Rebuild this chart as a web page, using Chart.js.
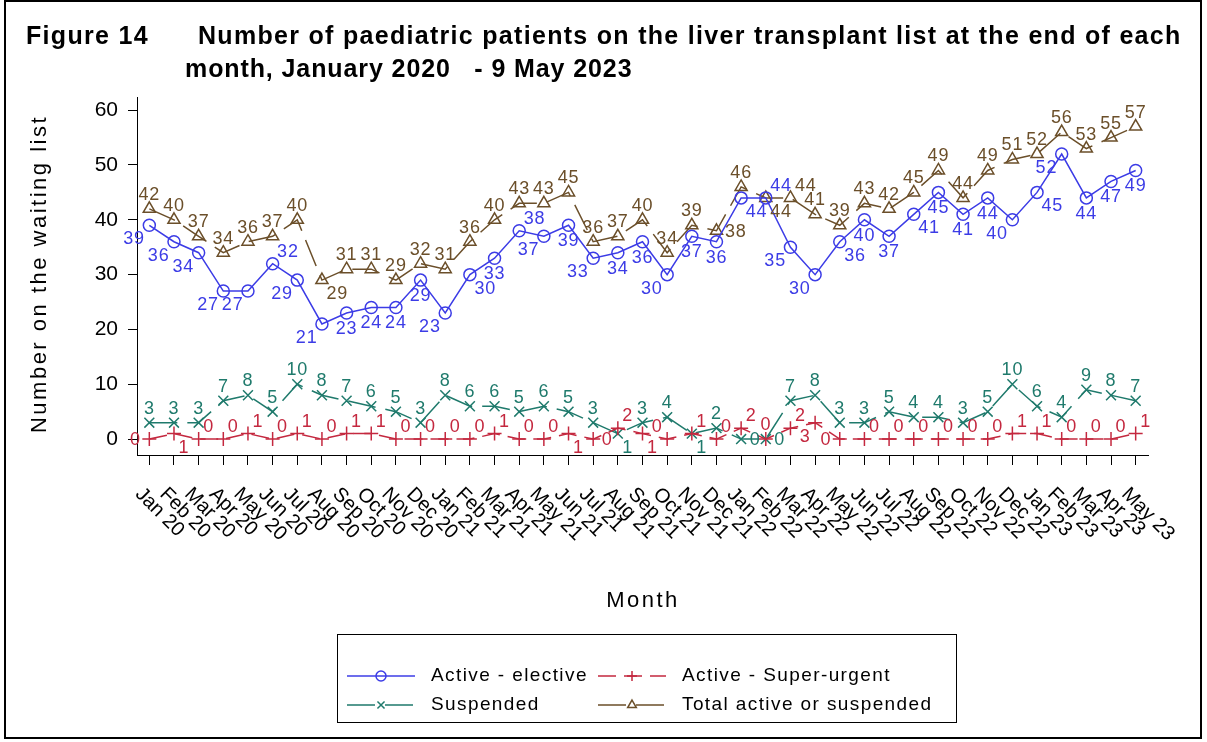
<!DOCTYPE html>
<html>
<head>
<meta charset="utf-8">
<script src="https://cdn.jsdelivr.net/npm/chart.js@4.4.1/dist/chart.umd.min.js"></script>
<style>
  html, body { margin: 0; padding: 0; background: #fff; }
  #wrap { width: 1207px; height: 742px; }
</style>
</head>
<body>
<div id="wrap"><canvas id="chart" width="1207" height="742"></canvas></div>
<script>
// month categories, Jan 2020 - May 2023
const months = [
  'Jan 20','Feb 20','Mar 20','Apr 20','May 20','Jun 20','Jul 20','Aug 20','Sep 20','Oct 20','Nov 20','Dec 20',
  'Jan 21','Feb 21','Mar 21','Apr 21','May 21','Jun 21','Jul 21','Aug 21','Sep 21','Oct 21','Nov 21','Dec 21',
  'Jan 22','Feb 22','Mar 22','Apr 22','May 22','Jun 22','Jul 22','Aug 22','Sep 22','Oct 22','Nov 22','Dec 22',
  'Jan 23','Feb 23','Mar 23','Apr 23','May 23'
];

const elective = [39,36,34,27,27,32,29,21,23,24,24,29, 23,30,33,38,37,39,33,34,36,30,37,36, 44,44,35,30,36,40,37,41,45,41,44,40, 45,52,44,47,49];
const superUrgent = [0,1,0,0,1,0,1,0,1,1,0,0, 0,0,1,0,0,1,0,2,1,0,1,0, 2,0,2,3,0,0,0,0,0,0,0,1, 1,0,0,0,1];
const suspended = [3,3,3,7,8,5,10,8,7,6,5,3, 8,6,6,5,6,5,3,1,3,4,1,2, 0,0,7,8,3,3,5,4,4,3,5,10, 6,4,9,8,7];
const total = [42,40,37,34,36,37,40,29,31,31,29,32, 31,36,40,43,43,45,36,37,40,34,39,38, 46,44,44,41,39,43,42,45,49,44,49,51, 52,56,53,55,57];

const yTicks = [0, 10, 20, 30, 40, 50, 60];

const FONT = '"Liberation Sans", Arial, Helvetica, sans-serif';

function overlapArea(a, b) {
  const w = Math.min(a.x + a.w, b.x + b.w) - Math.max(a.x, b.x);
  const h = Math.min(a.y + a.h, b.y + b.h) - Math.max(a.y, b.y);
  return (w > 0 && h > 0) ? w * h : 0;
}

// preferred label positions per series, tried in order
const SIDE_ORDER = {
  below: ['bl', 'b', 'br', 'tr', 'tl', 't', 'l', 'r'],
  above: ['t', 'tr', 'tl', 'r', 'l', 'br', 'bl', 'b'],
  right: ['tr', 'r', 't', 'tl', 'br', 'l', 'bl', 'b']
};

// data labels, placed around each marker avoiding other labels/markers/lines
const pointLabels = {
  id: 'pointLabels',
  afterDatasetsDraw(chart) {
    const ctx = chart.ctx;
    const area = chart.chartArea;
    const markers = [];
    const samples = [];
    chart.data.datasets.forEach((ds, di) => {
      const pts = chart.getDatasetMeta(di).data;
      pts.forEach((p, i) => {
        markers.push({ x: p.x - 6, y: p.y - 6, w: 12, h: 12 });
        if (i > 0) {
          const q = pts[i - 1];
          const n = Math.ceil(Math.hypot(p.x - q.x, p.y - q.y) / 2);
          for (let k = 0; k <= n; k++) samples.push([q.x + (p.x - q.x) * k / n, q.y + (p.y - q.y) * k / n]);
        }
      });
    });

    ctx.save();
    ctx.font = '18px ' + FONT;
    ctx.letterSpacing = '0.8px';
    ctx.textAlign = 'center';
    ctx.textBaseline = 'middle';
    const placed = [];
    chart.data.datasets.forEach((ds, di) => {
      const pts = chart.getDatasetMeta(di).data;
      const order = SIDE_ORDER[ds.labelSide] || SIDE_ORDER.above;
      ctx.fillStyle = ds.borderColor;
      pts.forEach((p, i) => {
        const txt = String(ds.data[i]);
        const w = ctx.measureText(txt).width + 1, h = 14, r = 7;
        const off = {
          tr: [r + w / 2 - 3, -(r + h / 2 - 1)],
          t: [0, -(r + h / 2 + 1)],
          tl: [-(r + w / 2 - 3), -(r + h / 2 - 1)],
          bl: [-(r + w / 2 - 3), r + h / 2 - 1],
          b: [0, r + h / 2 + 1],
          br: [r + w / 2 - 3, r + h / 2 - 1],
          r: [r + w / 2 + 1, 0],
          l: [-(r + w / 2 + 1), 0]
        };
        let best = null, bestScore = Infinity;
        order.forEach((key, ci) => {
          const [dx, dy] = off[key];
          const box = { x: p.x + dx - w / 2, y: p.y + dy - h / 2, w, h };
          let s = ci * 4;
          placed.forEach(b => { s += 20 * overlapArea(box, b); });
          markers.forEach(m => { s += 4 * overlapArea(box, m); });
          samples.forEach(([sx, sy]) => {
            if (sx > box.x && sx < box.x + box.w && sy > box.y && sy < box.y + box.h) s += 5;
          });
          if (box.y + box.h > area.bottom - 1 || box.y < area.top - 12) s += 5000;
          if (s < bestScore) { bestScore = s; best = box; }
        });
        placed.push(best);
        ctx.fillText(txt, best.x + best.w / 2, best.y + best.h / 2 + 1);
      });
    });
    ctx.restore();
  }
};

// frame, titles, rotated month labels and legend
const decorations = {
  id: 'decorations',
  afterDraw(chart) {
    const ctx = chart.ctx;
    const xs = chart.scales.x;
    const area = chart.chartArea;
    ctx.save();

    // outer frame
    ctx.strokeStyle = '#000';
    ctx.lineWidth = 2;
    ctx.strokeRect(5, 1, 1196, 737);

    // title
    ctx.fillStyle = '#000';
    ctx.textBaseline = 'alphabetic';
    ctx.textAlign = 'left';
    ctx.font = 'bold 25px ' + FONT;
    ctx.letterSpacing = '1.3px';
    ctx.fillText('Figure 14', 26, 44);
    ctx.fillText('Number of paediatric patients on the liver transplant list at the end of each', 198, 44);
    ctx.letterSpacing = '0.9px';
    ctx.fillText('month, January 2020   - 9 May 2023', 185, 77);
    ctx.letterSpacing = '0px';

    // month tick labels, rotated down to the right
    ctx.font = '20px ' + FONT;
    ctx.fillStyle = '#000';
    ctx.textBaseline = 'middle';
    months.forEach((m, i) => {
      const x = xs.getPixelForValue(i);
      ctx.save();
      ctx.translate(x - 11, area.bottom + 36);
      ctx.rotate(Math.PI / 4);
      ctx.fillText(m, 0, 0);
      ctx.restore();
    });

    // axis titles
    ctx.font = '22px ' + FONT;
    ctx.letterSpacing = '2.5px';
    ctx.textAlign = 'center';
    ctx.fillText('Month', 643, 601);
    ctx.save();
    ctx.translate(40, 274);
    ctx.rotate(-Math.PI / 2);
    ctx.fillText('Number on the waiting list', 0, 0);
    ctx.restore();

    // legend
    ctx.letterSpacing = '1.4px';
    ctx.lineWidth = 1;
    ctx.strokeStyle = '#000';
    ctx.strokeRect(337.5, 634.5, 619, 88);
    const slots = [[347, 676], [598, 676], [347, 705], [598, 705]];
    ctx.font = '19px ' + FONT;
    ctx.textAlign = 'left';
    chart.data.datasets.forEach((ds, k) => {
      const [x, y] = slots[k];
      ctx.strokeStyle = ds.borderColor;
      ctx.lineWidth = 1.5;
      ctx.setLineDash(ds.borderDash || []);
      ctx.beginPath();
      ctx.moveTo(x, y);
      ctx.lineTo(x + 68, y);
      ctx.stroke();
      ctx.setLineDash([]);
      ctx.fillStyle = 'rgba(0,0,0,0)';
      Chart.helpers.drawPoint(ctx, { pointStyle: ds.pointStyle, radius: 5, borderWidth: 1.5, rotation: 0 }, x + 34, y);
      ctx.fillStyle = '#000';
      ctx.fillText(ds.label, x + 84, y);
    });
    ctx.restore();
  }
};

new Chart(document.getElementById('chart'), {
  type: 'line',
  data: {
    labels: months,
    datasets: [
      {
        label: 'Active - elective',
        data: elective,
        labelSide: 'below',
        borderColor: '#3c3ce6',
        backgroundColor: 'rgba(0,0,0,0)',
        borderWidth: 1.5,
        pointStyle: 'circle',
        pointRadius: 6,
        pointBorderWidth: 1.5
      },
      {
        label: 'Active - Super-urgent',
        data: superUrgent,
        labelSide: 'right',
        borderColor: '#c4283f',
        backgroundColor: 'rgba(0,0,0,0)',
        borderWidth: 1.5,
        borderDash: [18, 8],
        pointStyle: 'cross',
        pointRadius: 7,
        pointBorderWidth: 1.5
      },
      {
        label: 'Suspended',
        data: suspended,
        labelSide: 'above',
        borderColor: '#1f7a6c',
        backgroundColor: 'rgba(0,0,0,0)',
        borderWidth: 1.5,
        borderDash: [28, 10],
        pointStyle: 'crossRot',
        pointRadius: 7,
        pointBorderWidth: 1.5
      },
      {
        label: 'Total active or suspended',
        data: total,
        labelSide: 'above',
        borderColor: '#6b4f2a',
        backgroundColor: 'rgba(0,0,0,0)',
        borderWidth: 1.5,
        borderDash: [28, 10],
        pointStyle: 'triangle',
        pointRadius: 7,
        pointBorderWidth: 1.5
      }
    ]
  },
  options: {
    responsive: false,
    animation: false,
    devicePixelRatio: 1,
    layout: { padding: { top: 97, right: 59, left: 0, bottom: 0 } },
    plugins: {
      legend: { display: false },
      tooltip: { enabled: false },
      title: { display: false }
    },
    scales: {
      x: {
        type: 'category',
        offset: true,
        grid: { display: true, drawOnChartArea: false, drawTicks: true, tickLength: 10, color: '#000', offset: false },
        border: { display: true, color: '#000', width: 1 },
        ticks: { display: false },
        afterFit(s) { s.height = 287; }
      },
      y: {
        min: -2.9,
        max: 62.4,
        afterBuildTicks(s) { s.ticks = yTicks.map(v => ({ value: v })); },
        grid: { display: true, drawOnChartArea: false, drawTicks: true, tickLength: 9, color: '#000' },
        border: { display: true, color: '#000', width: 1 },
        ticks: { color: '#000', font: { family: FONT, size: 21 }, padding: 10 },
        afterFit(s) { s.width = 137; }
      }
    }
  },
  plugins: [pointLabels, decorations]
});
</script>
</body>
</html>
